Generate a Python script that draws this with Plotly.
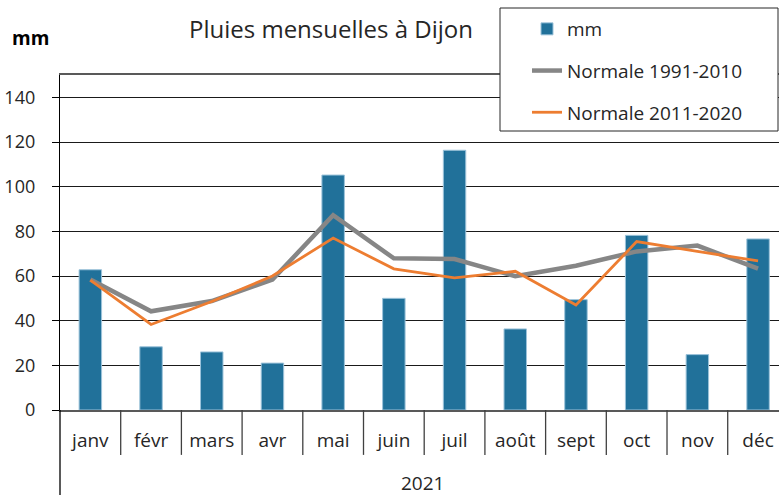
import plotly.graph_objects as go

months = ["janv", "févr", "mars", "avr", "mai", "juin", "juil", "août", "sept", "oct", "nov", "déc"]
rain_2021 = [62.8, 28.3, 26.0, 21.0, 105.2, 50.0, 116.3, 36.3, 49.4, 78.2, 24.8, 76.6]
normal_1991_2010 = [58.4, 44.2, 48.8, 58.4, 87.2, 67.9, 67.6, 59.9, 64.6, 71.0, 73.6, 63.3]
normal_2011_2020 = [58.2, 38.3, 48.6, 60.0, 77.0, 63.2, 59.2, 62.1, 47.0, 75.4, 71.0, 66.8]
y_ticks = [0, 20, 40, 60, 80, 100, 120, 140]
year_label = "2021"

FONT = "'Open Sans', 'Noto Sans', sans-serif"
idx = list(range(len(months)))

L, T, B, W, H = 60, 75, 85, 779, 495
PW, PH = W - L, H - T - B


def px(x):
    return (x - L) / PW


def py(y):
    return (H - B - y) / PH


fig = go.Figure()
fig.add_trace(go.Bar(
    x=idx, y=rain_2021, name="mm",
    marker=dict(color="#21719A", line=dict(color="#9CC3DA", width=1)),
    legendgroup="a",
))
fig.add_trace(go.Scatter(
    x=idx, y=normal_1991_2010, name="Normale 1991-2010", mode="lines",
    line=dict(color="#868686", width=4.5), legendgroup="b",
))
fig.add_trace(go.Scatter(
    x=idx, y=normal_2011_2020, name="Normale 2011-2020", mode="lines",
    line=dict(color="#ED7D31", width=2.8), legendgroup="c",
))

shapes = []
for i in range(len(months) - 1):
    shapes.append(dict(type="line", xref="x", yref="paper", x0=i + 0.5, x1=i + 0.5,
                       y0=0, y1=-0.134, line=dict(color="#404040", width=1.3)))
shapes.append(dict(type="line", xref="paper", yref="paper", x0=0, x1=0,
                   y0=0, y1=-0.26, line=dict(color="#000000", width=1.3)))
# legend frame
shapes.append(dict(type="rect", xref="paper", yref="paper", layer="above",
                   x0=px(500), x1=px(778), y0=py(131), y1=py(8),
                   fillcolor="white", line=dict(color="#262626", width=1)))

fig.update_layout(
    width=W, height=H,
    margin=dict(l=L, r=0, t=T, b=B, autoexpand=False),
    paper_bgcolor="white", plot_bgcolor="white",
    font=dict(family=FONT, size=19, color="#262626"),
    bargap=0.63,
    showlegend=True,
    legend=dict(
        x=px(527), y=py(10), xanchor="left", yanchor="top",
        bgcolor="rgba(0,0,0,0)", borderwidth=0,
        font=dict(family=FONT, size=19, color="#262626"),
        traceorder="grouped", tracegroupgap=14,
    ),
    xaxis=dict(
        type="linear", range=[-0.5, 11.345],
        tickmode="array", tickvals=idx, ticktext=months,
        showgrid=False, zeroline=False,
        showline=True, mirror=True, linecolor="#595959", linewidth=1.5,
        ticks="", ticklabelstandoff=12,
        tickfont=dict(family=FONT, size=19, color="#262626"),
    ),
    yaxis=dict(
        range=[0, 150], tickmode="array", tickvals=y_ticks,
        showgrid=True, gridcolor="#1a1a1a", gridwidth=1,
        zeroline=False, showline=True, linecolor="#000000", linewidth=1.3,
        ticks="outside", ticklen=7, tickcolor="#000000", ticklabelstandoff=13,
        tickfont=dict(family=FONT, size=18, color="#262626"),
    ),
    shapes=shapes,
    annotations=[
        dict(text="Pluies mensuelles à Dijon", xref="paper", yref="paper",
             x=px(331), y=py(28), xanchor="center", yanchor="middle",
             showarrow=False, font=dict(family=FONT, size=24, color="#262626")),
        dict(text="<b>mm</b>", xref="paper", yref="paper",
             x=px(30), y=py(38), xanchor="center", yanchor="middle",
             showarrow=False, font=dict(family=FONT, size=19, color="#000000")),
        dict(text=year_label, xref="paper", yref="paper",
             x=px(422), y=py(483), xanchor="center", yanchor="middle",
             showarrow=False, font=dict(family=FONT, size=19, color="#262626")),
    ],
)

fig.write_html("out.html", config={"displayModeBar": False},
               post_script="document.body.style.margin='0';")
